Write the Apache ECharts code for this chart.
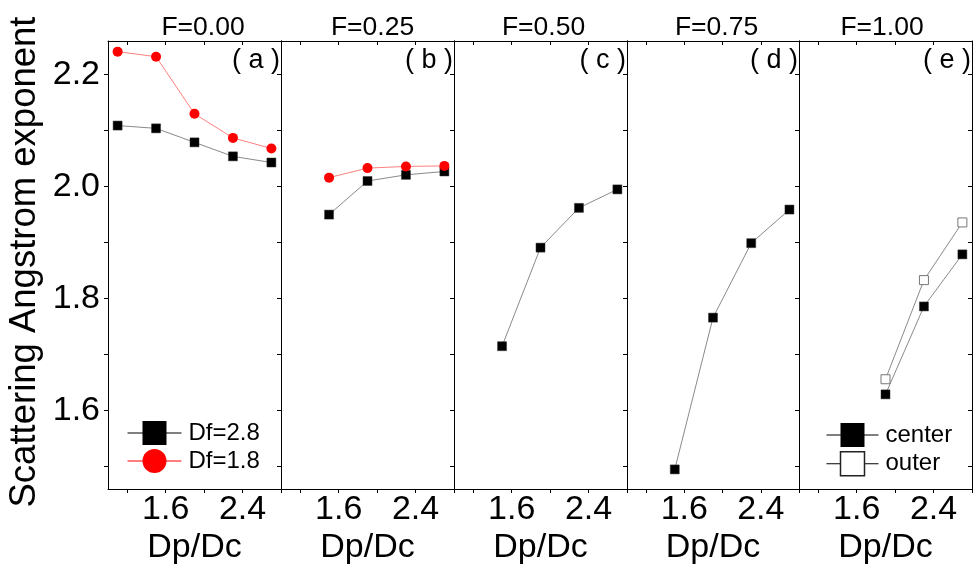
<!DOCTYPE html>
<html>
<head>
<meta charset="utf-8">
<title>Scattering Angstrom exponent</title>
<script src="https://cdn.jsdelivr.net/npm/echarts@6/dist/echarts.min.js"></script>
<style>
html, body { margin: 0; padding: 0; background: #fff; }
#main { width: 973px; height: 565px; }
</style>
</head>
<body>
<div id="main"></div>
<script>
var panelTitles = ['F=0.00', 'F=0.25', 'F=0.50', 'F=0.75', 'F=1.00'];
var panelLetters = ['( a )', '( b )', '( c )', '( d )', '( e )'];
var xTickValues = [1.2, 1.6, 2.0, 2.4, 2.8];
var xLabelValues = [1.6, 2.4];
var yTickValues = [1.5, 1.6, 1.7, 1.8, 1.9, 2.0, 2.1, 2.2];
var yLabelValues = [1.6, 1.8, 2.0, 2.2];

// panel data
var xA = [1.1, 1.5, 1.9, 2.3, 2.7];
var aDf28 = [2.109, 2.104, 2.079, 2.054, 2.043];
var aDf18 = [2.241, 2.232, 2.130, 2.087, 2.068];
var xB = [1.5, 1.9, 2.3, 2.7];
var bDf28 = [1.950, 2.010, 2.021, 2.027];
var bDf18 = [2.016, 2.033, 2.036, 2.037];
var xC = [1.5, 1.9, 2.3, 2.7];
var cDf28 = [1.715, 1.891, 1.962, 1.995];
var xD = [1.5, 1.9, 2.3, 2.7];
var dDf28 = [1.495, 1.766, 1.899, 1.959];
var xE = [1.9, 2.3, 2.7];
var eCenter = [1.629, 1.786, 1.879];
var eOuter = [1.656, 1.833, 1.936];

var FONT = 'Liberation Sans, Arial, sans-serif';
var edges = [108, 281, 454, 627, 799, 972];
var gridTop = 41, gridH = 448;

function zip(xs, ys) {
	var out = [];
	for (var i = 0; i < xs.length; i++) out.push([xs[i], ys[i]]);
	return out;
}

var grids = [], xAxes = [], yAxes = [], graphics = [];
var lineBlack = { color: '#8a8a8a', width: 1 };
var lineRed = { color: '#ff8080', width: 1 };

for (var i = 0; i < 5; i++) {
	grids.push({ left: edges[i], top: gridTop, width: edges[i + 1] - edges[i], height: gridH,
		containLabel: false, outerBoundsMode: 'none' });
	// bottom axis
	xAxes.push({
		type: 'value', gridIndex: i, position: 'bottom', min: 1.0, max: 2.8,
		name: 'Dp/Dc', nameLocation: 'middle', nameGap: 42, nameMoveOverlap: false,
		nameTextStyle: { fontFamily: FONT, fontSize: 34, color: '#000' },
		axisLine: { show: true, onZero: false, lineStyle: { color: '#000', width: 1 } },
		axisTick: { show: true, inside: false, length: 4, customValues: xTickValues, lineStyle: { color: '#000' } },
		axisLabel: { show: true, customValues: xLabelValues, margin: 4, fontFamily: FONT, fontSize: 34, color: '#000',
			formatter: function (v) { return v.toFixed(1); } },
		splitLine: { show: false }
	});
	// top axis
	xAxes.push({
		type: 'value', gridIndex: i, position: 'top', min: 1.0, max: 2.8,
		axisLine: { show: true, onZero: false, lineStyle: { color: '#000', width: 1 } },
		axisTick: { show: true, inside: true, length: 4, customValues: xTickValues, lineStyle: { color: '#000' } },
		axisLabel: { show: false },
		splitLine: { show: false }
	});
	// left axis
	var left = {
		type: 'value', gridIndex: i, position: 'left', min: 1.46, max: 2.26,
		axisLine: { show: true, onZero: false, lineStyle: { color: '#000', width: 1 } },
		axisTick: { show: false },
		axisLabel: { show: false },
		splitLine: { show: false }
	};
	if (i === 0) {
		left.axisTick = { show: true, inside: false, length: 4, customValues: yTickValues, lineStyle: { color: '#000' } };
		left.axisLabel = { show: true, customValues: yLabelValues, margin: 8, fontFamily: FONT, fontSize: 34, color: '#000',
			formatter: function (v) { return v.toFixed(1); } };
	}
	yAxes.push(left);
	// right axis
	yAxes.push({
		type: 'value', gridIndex: i, position: 'right', min: 1.46, max: 2.26,
		axisLine: { show: true, onZero: false, lineStyle: { color: '#000', width: 1 } },
		axisTick: { show: true, inside: true, length: 4, customValues: yTickValues, lineStyle: { color: '#000' } },
		axisLabel: { show: false },
		splitLine: { show: false }
	});

	graphics.push({
		type: 'text', x: (edges[i] + edges[i + 1]) / 2 + [8.5, 5, 3, 3.5, -3.5][i], y: 27.5,
		style: { text: panelTitles[i], font: '26.5px ' + FONT, fill: '#000', textAlign: 'center', textVerticalAlign: 'middle' }
	});
	graphics.push({
		type: 'text', x: edges[i + 1] - 1, y: 61,
		style: { text: panelLetters[i], font: '27px ' + FONT, fill: '#000', textAlign: 'right', textVerticalAlign: 'middle' }
	});
}

// y axis title
graphics.push({
	type: 'text', x: 25, y: 262, rotation: Math.PI / 2,
	style: { text: 'Scattering Angstrom exponent', font: '36.5px ' + FONT, fill: '#000', textAlign: 'center', textVerticalAlign: 'middle' }
});

function blackSeries(name, idx, xs, ys) {
	return {
		name: name, type: 'line', xAxisIndex: idx * 2, yAxisIndex: idx * 2,
		data: zip(xs, ys), symbol: 'rect', symbolSize: 9,
		itemStyle: { color: '#000', borderColor: '#333', borderWidth: 0.5 },
		lineStyle: lineBlack, showSymbol: true, animation: false
	};
}
function redSeries(name, idx, xs, ys) {
	return {
		name: name, type: 'line', xAxisIndex: idx * 2, yAxisIndex: idx * 2,
		data: zip(xs, ys), symbol: 'circle', symbolSize: 10,
		itemStyle: { color: '#ff0000' },
		lineStyle: lineRed, animation: false
	};
}

var series = [
	blackSeries('Df=2.8', 0, xA, aDf28),
	redSeries('Df=1.8', 0, xA, aDf18),
	blackSeries('Df=2.8', 1, xB, bDf28),
	redSeries('Df=1.8', 1, xB, bDf18),
	blackSeries('Df=2.8', 2, xC, cDf28),
	blackSeries('Df=2.8', 3, xD, dDf28),
	blackSeries('center', 4, xE, eCenter),
	{
		name: 'outer', type: 'line', xAxisIndex: 8, yAxisIndex: 8,
		data: zip(xE, eOuter), symbol: 'rect', symbolSize: 9,
		itemStyle: { color: '#fff', borderColor: '#777', borderWidth: 1 },
		lineStyle: lineBlack, animation: false
	}
];

var chart = echarts.init(document.getElementById('main'), null, { renderer: 'canvas' });
chart.setOption({
	backgroundColor: '#fff',
	animation: false,
	grid: grids,
	xAxis: xAxes,
	yAxis: yAxes,
	legend: [{
		left: 127, top: 421, orient: 'vertical', itemWidth: 54, itemHeight: 30, itemGap: 4,
		selectedMode: false, padding: 0,
		textStyle: { fontFamily: FONT, fontSize: 24, color: '#000', padding: [0, 0, 0, 2] },
		data: [
			{ name: 'Df=2.8', lineStyle: { color: '#000', width: 1 }, itemStyle: { color: '#000', borderWidth: 0 } },
			{ name: 'Df=1.8', lineStyle: { color: '#ff0000', width: 1 }, itemStyle: { color: '#ff0000' } }
		]
	}, {
		left: 826, top: 423, orient: 'vertical', itemWidth: 52, itemHeight: 30, itemGap: 4,
		selectedMode: false, padding: 0,
		textStyle: { fontFamily: FONT, fontSize: 24, color: '#000', padding: [0, 0, 0, 2] },
		data: [
			{ name: 'center', lineStyle: { color: '#000', width: 1 }, itemStyle: { color: '#000', borderWidth: 0 } },
			{ name: 'outer', lineStyle: { color: '#000', width: 1 }, itemStyle: { color: '#fff', borderColor: '#222', borderWidth: 1.5 } }
		]
	}],
	graphic: graphics,
	series: series
});
window.addEventListener('resize', function () { chart.resize(); });
</script>
</body>
</html>
